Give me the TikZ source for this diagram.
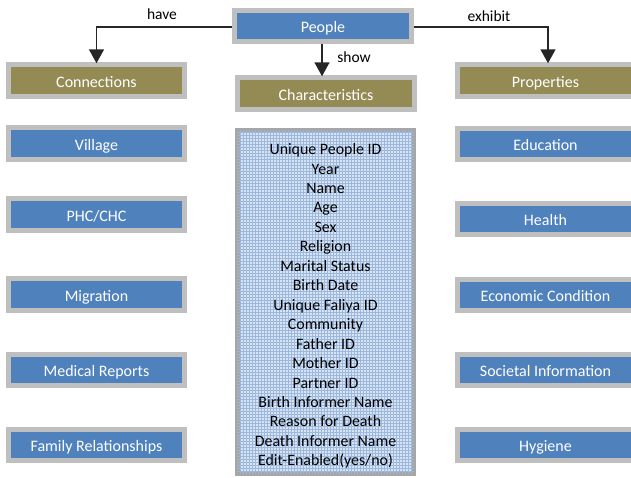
\documentclass[tikz,border=0pt]{standalone}
\usepackage{fontspec}
\setmainfont{Carlito}
\usetikzlibrary{arrows.meta,patterns,calc}
\definecolor{boxblue}{HTML}{4F81BD}
\definecolor{boxolive}{HTML}{948A54}
\definecolor{boxrim}{HTML}{BFBFBF}
\definecolor{listrim}{HTML}{A6A6A6}
\definecolor{listbg}{HTML}{D9E4F3}
\definecolor{listgrid}{HTML}{9DB8DE}
\definecolor{arrowcol}{HTML}{262626}
\tikzset{
  basebox/.style={draw=boxrim, line width=5pt, inner sep=0pt,
    minimum width=176pt, minimum height=31.5pt, text=white,
    text height=13pt, text depth=0pt,
    font=\fontsize{16pt}{18pt}\selectfont},
  bluebox/.style={basebox, fill=boxblue},
  olivebox/.style={basebox, fill=boxolive},
  link/.style={draw=arrowcol, line width=1.5pt,
    -{Triangle[width=15pt,length=14pt]}, shorten >=-1pt},
  linklabel/.style={font=\fontsize{15.5pt}{18pt}\selectfont, text=black, inner sep=0pt}
}
\begin{document}
\begin{tikzpicture}[x=1pt,y=-1pt]
\useasboundingbox (0,0) rectangle (631,477);
% top
\node[bluebox, minimum width=177pt, minimum height=31pt] (people) at (323,25.5) {People};
\node[olivebox, minimum width=177pt] (charac) at (326,93.5) {Characteristics};
% list box
\node[draw=listrim, line width=5pt, minimum width=176pt, minimum height=343pt,
      inner sep=0pt, fill=listbg] (listbox) at (325.5,302) {};
\fill[pattern=grid, pattern color=listgrid] ($(listbox.north west)+(2.5,2.5)$) rectangle ($(listbox.south east)+(-2.5,-2.5)$);
\node[align=center, text=black, font=\fontsize{15.9pt}{19.45pt}\selectfont, inner sep=0pt] (listtext) at (325.5,306)
  {Unique People ID\\Year\\Name\\Age\\Sex\\Religion\\Marital Status\\Birth Date\\Unique Faliya ID\\Community\\Father ID\\Mother ID\\Partner ID\\Birth Informer Name\\Reason for Death\\Death Informer Name\\Edit-Enabled(yes/no)};
% left column
\node[olivebox] (conn) at (96.5,80.5) {Connections};
\node[bluebox] (village) at (96.5,143.5) {Village};
\node[bluebox] (phc) at (96.5,214.5) {PHC/CHC};
\node[bluebox] (migr) at (96.5,294.5) {Migration};
\node[bluebox] (med) at (96.5,370) {Medical Reports};
\node[bluebox] (fam) at (96.5,445) {Family Relationships};
% right column
\node[olivebox] (prop) at (545.5,80.5) {Properties};
\node[bluebox] (edu) at (545.5,144) {Education};
\node[bluebox] (health) at (545.5,219) {Health};
\node[bluebox] (econ) at (545.5,295) {Economic Condition};
\node[bluebox] (soc) at (545.5,370) {Societal Information};
\node[bluebox] (hyg) at (545.5,445) {Hygiene};
% connectors
\coordinate (pw) at ($(people.west)+(0,1.5)$);
\coordinate (pe) at ($(people.east)+(0,1.5)$);
\coordinate (propin) at ($(prop.north)+(2.5,0)$);
\coordinate (ps) at ($(people.south)+(-1,0)$);
\coordinate (cn) at (ps |- charac.north);
\draw[link] (pw) -| (conn.north);
\draw[link] (pe) -| (propin);
\draw[link] (ps) -- (cn);
\node[linklabel] (have) at (162,14) {have};
\node[linklabel] (exhibit) at (489,16) {exhibit};
\node[linklabel] (show) at (354,57) {show};
\end{tikzpicture}
\end{document}
